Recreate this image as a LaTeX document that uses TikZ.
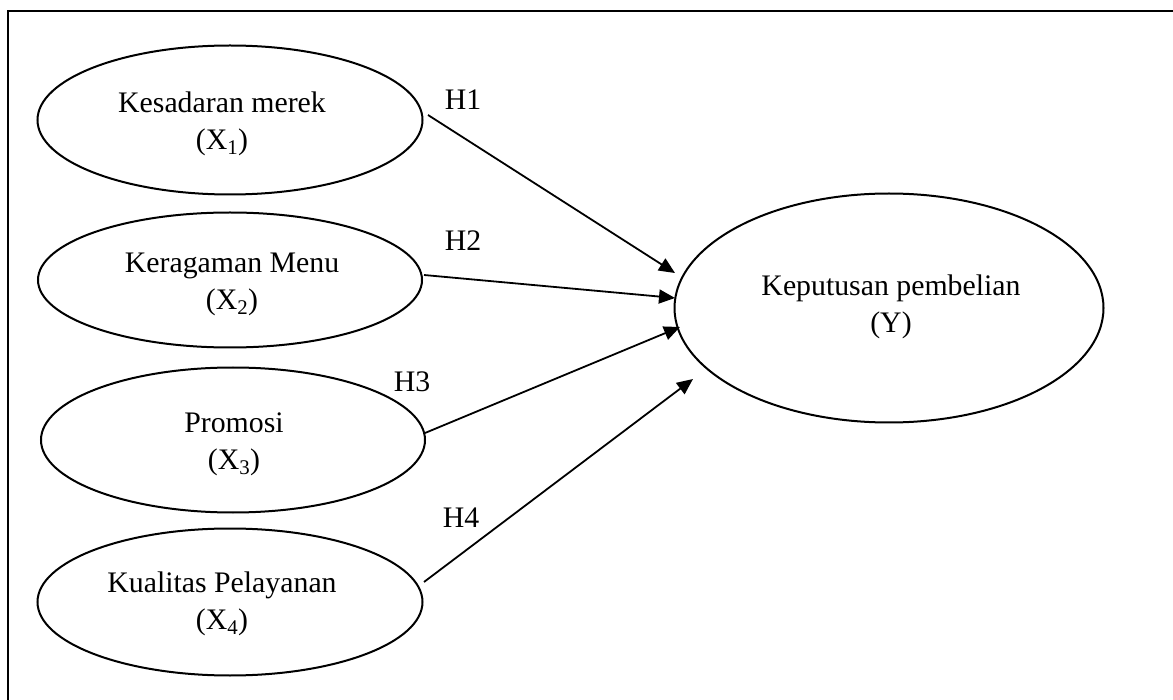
\documentclass[tikz,border=0pt]{standalone}
\usepackage{fontspec}
\setmainfont{Liberation Serif}
\usetikzlibrary{shapes.geometric,arrows.meta}
\begin{document}
\begin{tikzpicture}[x=1pt,y=-1pt,
  var/.style={draw,ellipse,line width=2pt,inner sep=0pt},
  txt/.style={align=center,inner sep=0pt,font=\fontsize{29.8}{37}\selectfont},
  lbl/.style={font=\fontsize{29.8}{37}\selectfont,inner sep=0pt},
  arr/.style={line width=1.8pt,-{Triangle[length=16pt,width=14pt]}}]
\useasboundingbox (0,0) rectangle (1173,700);
\draw[line width=2pt] (8,700) -- (8,11) -- (1173,11);
\node[var,minimum width=385pt,minimum height=149pt] (e1) at (230,120) {};
\node[var,minimum width=384pt,minimum height=135pt] (e2) at (230,280) {};
\node[var,minimum width=384pt,minimum height=145pt] (e3) at (233,440) {};
\node[var,minimum width=385pt,minimum height=147pt] (e4) at (230,602) {};
\node[var,minimum width=429pt,minimum height=229pt] (y) at (889,308) {};
\node[txt] (te1) at (222,124) {Kesadaran merek\\(X\textsubscript{1})};
\node[txt] (te2) at (232,284) {Keragaman Menu\\(X\textsubscript{2})};
\node[txt] (te3) at (234,444) {Promosi\\(X\textsubscript{3})};
\node[txt] (te4) at (222,604) {Kualitas Pelayanan\\(X\textsubscript{4})};
\node[txt] (ty) at (891,307) {Keputusan pembelian\\(Y)};
\coordinate (s1) at (428,115);
\coordinate (s2) at (424,275);
\coordinate (s3) at (425,433);
\coordinate (s4) at (424,582);
\coordinate (t1) at (675,273);
\coordinate (t2) at (675,298);
\coordinate (t3) at (680,327);
\coordinate (t4) at (693,379);
\draw[arr] (s1) -- (t1);
\draw[arr] (s2) -- (t2);
\draw[arr] (s3) -- (t3);
\draw[arr] (s4) -- (t4);
\node[lbl] (h1) at (463,100) {H1};
\node[lbl] (h2) at (463,241) {H2};
\node[lbl] (h3) at (412,382) {H3};
\node[lbl] (h4) at (461,518) {H4};
\end{tikzpicture}
\end{document}
